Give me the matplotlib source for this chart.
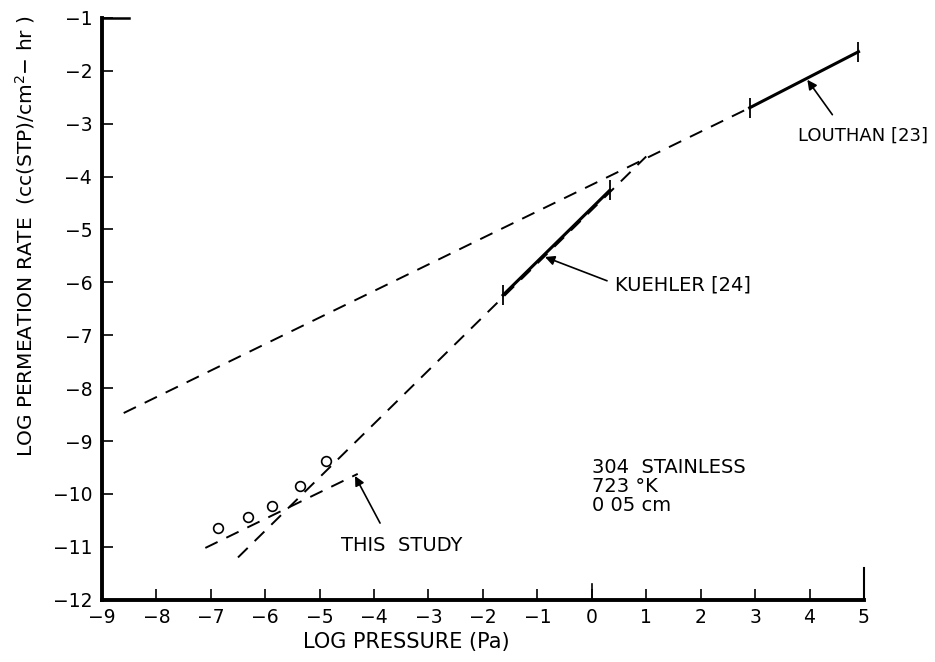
import numpy as np
import matplotlib.pyplot as plt

# log pressure (Pa) / log permeation rate
upper_x = [-8.6, 2.9]          # shallow dashed line (slope ~0.5)
upper_y = [-8.47, -2.7]
louthan_x = [2.9, 4.9]
louthan_y = [-2.7, -1.64]
steep_x = [-6.5, 1.0]          # steep dashed line (slope ~1)
steep_y = [-11.2, -3.62]
kuehler_x = [-1.63, 0.33]
kuehler_y = [-6.24, -4.26]
study_x = [-7.1, -4.3]
study_y = [-11.02, -9.62]
pts_x = [-6.86, -6.31, -5.87, -5.36, -4.88]
pts_y = [-10.64, -10.44, -10.23, -9.85, -9.38]

xticks = list(range(-9, 6))
yticks = list(range(-12, 0))

plt.rc('font', family='DejaVu Sans')
fig = plt.figure(figsize=(9.35, 6.62), dpi=100)
ax = fig.add_axes([0.109, 0.094, 0.815, 0.879])

dash = (0, (7, 5))
ax.plot(upper_x, upper_y, 'k', ls=dash, lw=1.4)
ax.plot(steep_x, steep_y, 'k', ls=dash, lw=1.4)
ax.plot(study_x, study_y, 'k', ls=dash, lw=1.4)
ax.plot(louthan_x, louthan_y, color='k', ls='-', lw=2.2, zorder=4)
ax.plot(kuehler_x, kuehler_y, color='k', ls='-', lw=2.2, zorder=4)
# end ticks on the literature segments
for xs, ys in ((louthan_x, louthan_y), (kuehler_x, kuehler_y)):
    ax.plot(xs, ys, 'k', ls='none', marker='|', ms=14, mew=1.3, zorder=4)
ax.plot(pts_x, pts_y, 'ko', mfc='white', ms=7, mew=1.2, zorder=5)

arrow = dict(arrowstyle='-|>', color='k', lw=1.2, mutation_scale=14,
             shrinkA=0, shrinkB=0)
ax.annotate('', xy=(3.96, -2.17), xytext=(4.42, -2.83), arrowprops=arrow)
ax.text(3.78, -3.22, 'LOUTHAN [23]', fontsize=13, va='center')
ax.annotate('', xy=(-0.86, -5.52), xytext=(0.28, -5.97), arrowprops=arrow)
ax.text(0.43, -6.05, 'KUEHLER [24]', fontsize=14, va='center')
ax.annotate('', xy=(-4.35, -9.66), xytext=(-3.89, -10.55), arrowprops=arrow)
ax.text(-4.6, -10.98, 'THIS  STUDY', fontsize=14, va='center')
ax.text(0.0, -9.85, '304  STAINLESS\n723 \u00b0K\n0 05 cm', fontsize=14,
        va='center', linespacing=1.0)

ax.set_xlim(-9, 5)
ax.set_ylim(-12, -1)
ax.set_xticks(xticks)
ax.set_yticks(yticks)
ax.set_xticklabels([str(t).replace('-', '\u2212') for t in xticks], fontsize=13.5)
ax.set_yticklabels([str(t).replace('-', '\u2212') for t in yticks], fontsize=13.5)
ax.tick_params(direction='in', length=8, width=1.2)
ax.tick_params(axis='x', pad=6)
ax.tick_params(axis='y', pad=7)
for s in ('top', 'right'):
    ax.spines[s].set_visible(False)
for s in ('left', 'bottom'):
    ax.spines[s].set_linewidth(2.8)
# longer marks at -1 on y, 0 and 5 on x
ax.plot([-9, -8.5], [-1, -1], 'k-', lw=1.8, clip_on=False)
ax.plot([0, 0], [-12, -11.7], 'k-', lw=1.2, clip_on=False)
ax.plot([5, 5], [-12, -11.4], 'k-', lw=1.5, clip_on=False)

ax.set_xlabel('LOG PRESSURE (Pa)', fontsize=15)
ax.xaxis.set_label_coords(0.4, -0.055)
ax.set_ylabel('LOG PERMEATION RATE  (cc(STP)/cm$^2$\u2212 hr )', fontsize=14.5)
ax.yaxis.set_label_coords(-0.085, 0.625)

fig.savefig('out.png', dpi=100)
